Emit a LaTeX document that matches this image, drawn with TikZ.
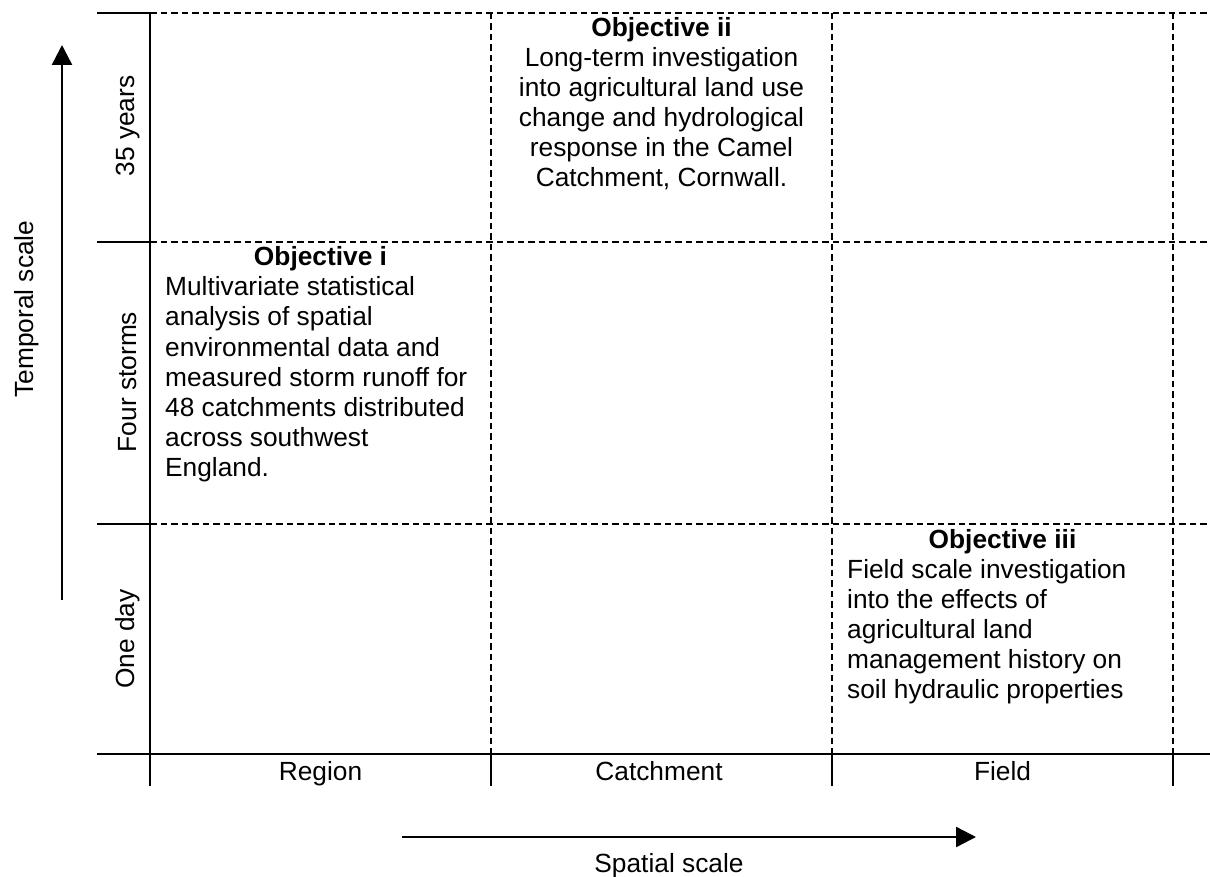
\documentclass[tikz,border=0pt]{standalone}
\usepackage{fontspec}
\setmainfont{Liberation Sans}
\usetikzlibrary{arrows.meta}
\newcommand\fs{\fontsize{26.3}{30}\selectfont}
\tikzset{
  solidln/.style={line width=2.4pt},
  dashln/.style={line width=2.1pt, dash pattern=on 6.5pt off 4pt},
  lbl/.style={font=\fs, inner sep=0pt},
  lblb/.style={font=\fs, inner sep=0pt, anchor=base},
  bodyl/.style={font=\fs, inner sep=0pt, anchor=base west},
  bodyc/.style={font=\fs, inner sep=0pt, anchor=base},
  head/.style={font=\fs\bfseries, inner sep=0pt, anchor=base},
  axarrow/.style={line width=2.4pt, -{Triangle[length=20pt,width=20pt]}}
}
\begin{document}
\begin{tikzpicture}[x=1pt,y=-1pt]
\useasboundingbox (0,0) rectangle (1210,877);
% grid coordinates
\coordinate (l0) at (97,13);
\coordinate (l1) at (97,242);
\coordinate (l2) at (97,524);
\coordinate (l3) at (97,754);
\coordinate (a0) at (150,13);
\coordinate (a1) at (150,242);
\coordinate (a2) at (150,524);
\coordinate (a3) at (150,754);
\coordinate (ab) at (150,786);
\coordinate (r0) at (1210,13);
\coordinate (r1) at (1210,242);
\coordinate (r2) at (1210,524);
\coordinate (r3) at (1210,754);
% dashed grid
\draw[dashln] (a0) -- (r0);
\draw[dashln] (a1) -- (r1);
\draw[dashln] (a2) -- (r2);
\foreach \x [count=\i] in {491,832,1173}{
  \coordinate (vt\i) at (\x,13);
  \coordinate (vb\i) at (\x,754);
  \coordinate (vk\i) at (\x,786);
  \draw[dashln] (vt\i) -- (vb\i);
  \draw[solidln] (vb\i) -- (vk\i);
}
% solid axes
\draw[solidln] (a0) -- (ab);
\draw[solidln] (l0) -- (a0);
\draw[solidln] (l1) -- (a1);
\draw[solidln] (l2) -- (a2);
\draw[solidln] (l3) -- (r3);
% scale arrows
\coordinate (ts) at (62,600);
\coordinate (te) at (62,45);
\draw[axarrow] (ts) -- (te);
\coordinate (ss) at (402,837);
\coordinate (se) at (976,837);
\draw[axarrow] (ss) -- (se);
\node[lbl, rotate=90] (tlab) at (27,309) {Temporal scale};
\node[lblb] (slab) at (669,872) {Spatial scale};
% row labels
\node[lbl, rotate=90] (row1) at (128,126) {35 years};
\node[lbl, rotate=90] (row2) at (128,382) {Four storms};
\node[lbl, rotate=90] (row3) at (128,639) {One day};
% column labels
\node[lblb] (col1) at (320.5,780) {Region};
\node[lblb] (col2) at (659,780) {Catchment};
\node[lblb] (col3) at (1002.5,780) {Field};
% Objective ii
\node[head] (h2) at (661.5,37) {Objective ii};
\foreach \t [count=\i] in {Long-term investigation, into agricultural land use, change and hydrological, response in the Camel, {Catchment, Cornwall.}}{
  \node[bodyc] (o2l\i) at (661.5,{37+30*\i}) {\t};
}
% Objective i
\node[head] (h1) at (320.5,266) {Objective i};
\foreach \t [count=\i] in {Multivariate statistical, analysis of spatial, environmental data and, measured storm runoff for, 48 catchments distributed, across southwest, England.}{
  \node[bodyl] (o1l\i) at (165,{266+30*\i}) {\t};
}
% Objective iii
\node[head] (h3) at (1002.5,548) {Objective iii};
\foreach \t [count=\i] in {Field scale investigation, into the effects of, agricultural land, management history on, soil hydraulic properties}{
  \node[bodyl] (o3l\i) at (847,{548+30*\i}) {\t};
}
\end{tikzpicture}
\end{document}
